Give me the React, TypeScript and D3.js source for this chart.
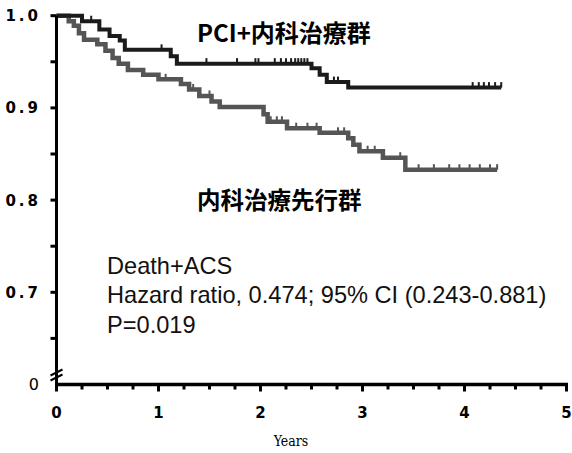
import React, { useEffect, useRef } from 'react';
import * as d3 from 'd3';

// Kaplan-Meier steps: [years, survival]
const pciTimes = [0, 0.25, 0.42, 0.52, 0.62, 0.67, 1.12, 1.18, 2.5, 2.58, 2.65, 2.86, 4.36];
const pciSurv = [1.0, 0.994, 0.985, 0.978, 0.973, 0.963, 0.956, 0.948, 0.943, 0.936, 0.928, 0.922, 0.922];
const pciCensor = [0.34, 1.03, 1.47, 1.77, 1.95, 1.98, 2.14, 2.2, 2.25, 2.3, 2.34, 2.37, 2.4, 2.43, 2.46, 2.72, 2.76, 4.08, 4.14, 4.19, 4.24, 4.3, 4.36];

const medTimes = [0, 0.12, 0.17, 0.22, 0.27, 0.4, 0.48, 0.55, 0.61, 0.7, 0.85, 1.0, 1.22, 1.3, 1.4, 1.52, 1.6, 2.03, 2.07, 2.26, 2.58, 2.86, 2.91, 2.97, 3.2, 3.42, 4.32];
const medSurv = [1.0, 0.994, 0.989, 0.981, 0.974, 0.969, 0.962, 0.954, 0.948, 0.941, 0.936, 0.931, 0.926, 0.92, 0.913, 0.907, 0.901, 0.893, 0.885, 0.878, 0.873, 0.867, 0.86, 0.853, 0.846, 0.833, 0.833];
const medCensor = [1.07, 1.34, 1.5, 2.1, 2.16, 2.21, 2.35, 2.46, 2.55, 2.76, 2.82, 3.05, 3.12, 3.37, 3.55, 3.7, 3.85, 3.95, 4.05, 4.15, 4.25, 4.32];

const yTicks = [1.0, 0.9, 0.8, 0.7];
const yMinor = [0.95, 0.85, 0.75, 0.65];
const xTicks = [0, 1, 2, 3, 4, 5];
const xMinor = d3.range(0, 5.01, 0.25);

const groupLabels = ['PCI+内科治療群', '内科治療先行群'];
const statLines = ['Death+ACS', 'Hazard ratio, 0.474; 95% CI (0.243-0.881)', 'P=0.019'];

function App() {
  const svgRef = useRef(null);

  useEffect(() => {
    const width = 572;
    const height = 453;

    const x = d3.scaleLinear().domain([0, 5]).range([56.5, 566.5]);
    const y = d3.scaleLinear().domain([0.6, 1.0]).range([384.5, 15.7]);

    const svg = d3.select(svgRef.current)
      .attr('width', width)
      .attr('height', height)
      .style('position', 'absolute')
      .style('left', 0)
      .style('top', 0)
      .style('background', '#fff');

    const line = d3.line().curve(d3.curveStepAfter).x(d => x(d[0])).y(d => y(d[1]));

    const survAt = (times, surv, t) => {
      let s = surv[0];
      for (let i = 0; i < times.length; i++) if (times[i] <= t) s = surv[i];
      return s;
    };

    const series = [
      { times: medTimes, surv: medSurv, censor: medCensor, color: '#555', w: 4.5 },
      { times: pciTimes, surv: pciSurv, censor: pciCensor, color: '#1b1b1b', w: 4 },
    ];

    series.forEach(s => {
      svg.append('path')
        .attr('d', line(s.times.map((t, i) => [t, s.surv[i]])))
        .attr('fill', 'none')
        .attr('stroke', s.color)
        .attr('stroke-width', s.w);
      svg.append('g')
        .selectAll('line')
        .data(s.censor)
        .join('line')
        .attr('x1', d => x(d)).attr('x2', d => x(d))
        .attr('y1', d => y(survAt(s.times, s.surv, d)))
        .attr('y2', d => y(survAt(s.times, s.surv, d)) - 5.5)
        .attr('stroke', s.color)
        .attr('stroke-width', 2);
    });

    // axes
    const axis = svg.append('g').attr('stroke', '#000').attr('fill', 'none');
    axis.append('line')
      .attr('x1', x(0)).attr('x2', x(0))
      .attr('y1', y(1.0)).attr('y2', y(0.6))
      .attr('stroke-width', 3);
    axis.append('line')
      .attr('x1', x(0) - 1.5).attr('x2', x(5) + 1.5)
      .attr('y1', y(0.6)).attr('y2', y(0.6))
      .attr('stroke-width', 3.5);

    axis.selectAll('.ytick')
      .data(yTicks.concat(yMinor))
      .join('line')
      .attr('x1', x(0) - 6).attr('x2', x(0))
      .attr('y1', d => y(d)).attr('y2', d => y(d))
      .attr('stroke-width', 3);

    axis.selectAll('.xtick')
      .data(xMinor)
      .join('line')
      .attr('x1', d => x(d)).attr('x2', d => x(d))
      .attr('y1', y(0.6))
      .attr('y2', d => y(0.6) + (Number.isInteger(d) ? 7 : 5))
      .attr('stroke-width', 3);

    // axis break
    const by = y(0.6) - 12;
    [0, 5].forEach(off => {
      axis.append('line')
        .attr('x1', x(0) - 6).attr('x2', x(0) + 6)
        .attr('y1', by + off + 3).attr('y2', by + off - 3)
        .attr('stroke-width', 2);
    });

    const tickFont = "'DejaVu Sans', sans-serif";
    svg.append('g')
      .selectAll('text')
      .data(yTicks)
      .join('text')
      .attr('x', 41)
      .attr('y', d => y(d) + 5.5)
      .attr('text-anchor', 'end')
      .attr('font-family', tickFont)
      .attr('font-weight', 'bold')
      .attr('font-size', 15)
      .attr('letter-spacing', 3)
      .text(d => d.toFixed(1));

    svg.append('text')
      .attr('x', 39).attr('y', y(0.6) + 5)
      .attr('text-anchor', 'end')
      .attr('font-family', tickFont)
      .attr('font-size', 16)
      .text('0');

    svg.append('g')
      .selectAll('text')
      .data(xTicks)
      .join('text')
      .attr('x', d => x(d))
      .attr('y', y(0.6) + 33)
      .attr('text-anchor', 'middle')
      .attr('font-family', tickFont)
      .attr('font-weight', 'bold')
      .attr('font-size', 15)
      .text(d => d);

    svg.append('text')
      .attr('x', 291).attr('y', 446)
      .attr('text-anchor', 'middle')
      .attr('font-family', "'DejaVu Serif', serif")
      .attr('font-stretch', 'condensed')
      .attr('font-size', 14)
      .text('Years');

    // group labels
    const cjk = "'Noto Sans CJK JP', sans-serif";
    svg.append('text')
      .attr('x', 197).attr('y', 42)
      .attr('font-family', cjk).attr('font-weight', 'bold').attr('font-size', 24)
      .text(groupLabels[0]);
    svg.append('text')
      .attr('x', 197).attr('y', 209)
      .attr('font-family', cjk).attr('font-weight', 'bold').attr('font-size', 23.5)
      .text(groupLabels[1]);

    svg.append('g')
      .selectAll('text')
      .data(statLines)
      .join('text')
      .attr('x', 107)
      .attr('y', (d, i) => 273.5 + i * 29.5)
      .attr('font-family', "'Liberation Sans', Arial, sans-serif")
      .attr('font-size', 23.6)
      .attr('fill', '#111')
      .text(d => d);

    return () => {
      svg.selectAll('*').remove();
    };
  }, []);

  return <svg ref={svgRef}></svg>;
}

export default App;
